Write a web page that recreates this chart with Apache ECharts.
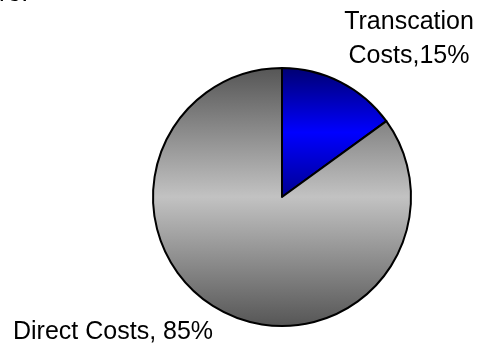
<!DOCTYPE html>
<html>
<head>
<meta charset="utf-8">
<style>html,body{margin:0;padding:0;background:#fff;}#c{width:482px;height:345px;}</style>
<script src="https://cdn.jsdelivr.net/npm/echarts@6/dist/echarts.min.js"></script>
</head>
<body>
<div id="c"></div>
<script>
const categories = ['Transcation Costs', 'Direct Costs'];
const values = [15, 85];
const labelTexts = ['Transcation\nCosts,15%', 'Direct Costs, 85%'];
const clippedTitle = 're:';

const chart = echarts.init(document.getElementById('c'), null, {renderer: 'canvas'});
const FONT = '"Liberation Sans", Arial, sans-serif';
const grad = (stops) => ({type: 'linear', x: 0, y: 0, x2: 0, y2: 1,
  colorStops: stops.map((c) => ({offset: c[0], color: c[1]}))});
const fills = [
  grad([[0, '#000070'], [0.5, '#0000ff'], [1, '#000090']]),
  grad([[0, '#555555'], [0.5, '#c2c2c2'], [1, '#555555']])
];
const labelPos = [
  {x: 409, y: 39, align: 'center', verticalAlign: 'middle'},
  {x: 13, y: 332, align: 'left', verticalAlign: 'middle'}
];
chart.setOption({
  animation: false,
  graphic: [{type: 'text', x: -1, y: 7, style: {text: clippedTitle, fontFamily: FONT, fontSize: 25, fill: '#000', verticalAlign: 'bottom', align: 'left'}}],
  series: [{
    type: 'pie',
    center: [282, 197],
    radius: [0, 129],
    startAngle: 90,
    clockwise: true,
    labelLine: {show: false},
    emphasis: {disabled: true},
    itemStyle: {borderColor: '#000', borderWidth: 2},
    label: {
      show: true,
      position: 'outside',
      overflow: 'none',
      color: '#000',
      fontFamily: FONT,
      fontSize: 25,
      lineHeight: 34,
      formatter: (p) => labelTexts[p.dataIndex]
    },
    labelLayout: (p) => labelPos[p.dataIndex],
    data: categories.map((n, i) => ({name: n, value: values[i], itemStyle: {color: fills[i]}}))
  }]
});
</script>
</body>
</html>
